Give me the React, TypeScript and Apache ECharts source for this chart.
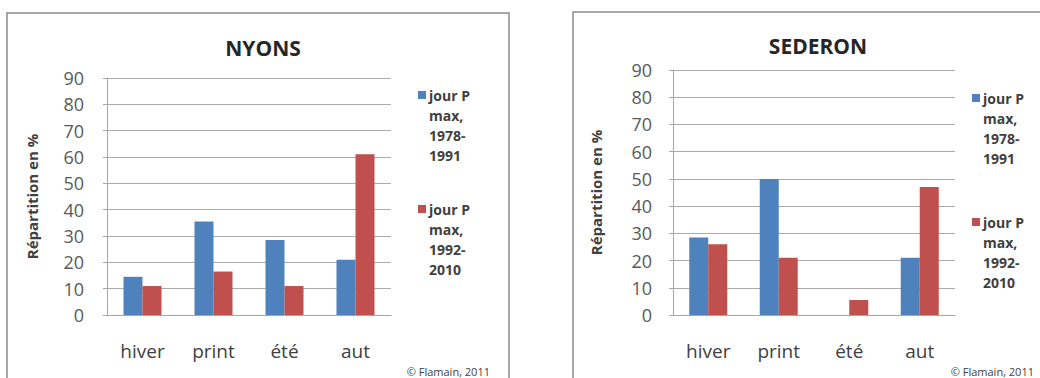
import React, { useEffect, useRef } from "react";
import * as echarts from "echarts";

const categories = ["hiver", "print", "été", "aut"];
const yTicks = [0, 10, 20, 30, 40, 50, 60, 70, 80, 90];
const seriesNames = ["jour P max, 1978-1991", "jour P max, 1992-2010"];
const legendLines = [
  ["jour P", "max,", "1978-", "1991"],
  ["jour P", "max,", "1992-", "2010"],
];
const nyons1978 = [14.5, 35.5, 28.5, 21];
const nyons1992 = [11, 16.5, 11, 61];
const sederon1978 = [28.5, 50, 0, 21];
const sederon1992 = [26, 21, 5.5, 47];
const titles = ["NYONS", "SEDERON"];
const axisTitle = "Répartition en %";
const credit = "© Flamain, 2011";

const BLUE = "#4F81BD";
const RED = "#C0504D";
const FONT = "'Open Sans', 'Liberation Sans', sans-serif";

export default function App() {
  const ref = useRef<HTMLDivElement>(null);
  useEffect(() => {
    document.body.style.margin = "0";
    const chart = echarts.init(ref.current!, undefined, { renderer: "svg" });
    const grids = [
      { left: 107, top: 78, width: 284, height: 237 },
      { left: 673, top: 70, width: 282, height: 245 },
    ];
    const yAxisBase = (i: number, nameGap: number, labelMargin: number) => ({
      type: "value",
      gridIndex: i,
      min: 0,
      max: 90,
      interval: 10,
      name: axisTitle,
      nameLocation: "middle",
      nameRotate: 90,
      nameGap,
      nameTextStyle: { fontFamily: FONT, fontSize: 15, fontWeight: "bold", color: "#404040" },
      axisLine: { show: true, lineStyle: { color: "#a6a6a6" } },
      axisTick: { show: true, length: 4, lineStyle: { color: "#a6a6a6" } },
      axisLabel: {
        margin: labelMargin,
        fontFamily: FONT,
        fontSize: 18,
        color: "#595959",
        formatter: (v: number) => (yTicks.includes(v) ? String(v) : ""),
      },
      splitLine: { show: true, lineStyle: { color: "#ababab" } },
    });
    const xAxisBase = (i: number) => ({
      type: "category",
      gridIndex: i,
      data: categories,
      axisLine: { show: true, lineStyle: { color: "#a6a6a6" } },
      axisTick: { show: false },
      axisLabel: { margin: 26, fontFamily: FONT, fontSize: 19, color: "#404040" },
    });
    const bar = (name: string, data: number[], color: string, i: number) => ({
      type: "bar",
      name,
      data,
      xAxisIndex: i,
      yAxisIndex: i,
      barWidth: 19,
      barGap: "0%",
      itemStyle: { color },
    });
    const legend = (x: number, ys: number[]) => {
      const els: any[] = [];
      [BLUE, RED].forEach((c, k) => {
        els.push({
          type: "rect",
          shape: { x, y: ys[k] - 4, width: 8, height: 8 },
          style: { fill: c },
        });
        els.push({
          type: "text",
          x: x + 11,
          y: ys[k] - 10,
          style: {
            text: legendLines[k].join("\n"),
            fontFamily: FONT,
            fontSize: 14,
            fontWeight: "bold",
            lineHeight: 20,
            fill: "#404040",
          },
        });
      });
      return els;
    };
    chart.setOption({
      animation: false,
      backgroundColor: "#ffffff",
      title: [
        {
          text: titles[0],
          left: 258,
          top: 32,
          textAlign: "center",
          textStyle: { fontFamily: FONT, fontSize: 21, fontWeight: "bold", color: "#262626" },
        },
        {
          text: titles[1],
          left: 813,
          top: 30,
          textAlign: "center",
          textStyle: { fontFamily: FONT, fontSize: 21, fontWeight: "bold", color: "#262626" },
        },
      ],
      grid: grids,
      xAxis: [xAxisBase(0), xAxisBase(1)],
      yAxis: [yAxisBase(0, 68, 23), yAxisBase(1, 70, 21)],
      series: [
        bar(seriesNames[0], nyons1978, BLUE, 0),
        bar(seriesNames[1], nyons1992, RED, 0),
        bar(seriesNames[0], sederon1978, BLUE, 1),
        bar(seriesNames[1], sederon1992, RED, 1),
      ],
      graphic: [
        {
          type: "rect",
          shape: { x: 7, y: 13, width: 502, height: 380 },
          style: { fill: "none", stroke: "#8c8c8c", lineWidth: 1.5 },
          z: -1,
        },
        {
          type: "rect",
          shape: { x: 573, y: 12, width: 500, height: 380 },
          style: { fill: "none", stroke: "#8c8c8c", lineWidth: 1.5 },
          z: -1,
        },
        ...legend(418, [95, 209]),
        ...legend(972, [98, 222]),
        {
          type: "text",
          x: 490,
          y: 366,
          style: { text: credit, fontFamily: FONT, fontSize: 11, fill: "#404040", textAlign: "right" },
        },
        {
          type: "text",
          x: 1034,
          y: 366,
          style: { text: credit, fontFamily: FONT, fontSize: 11, fill: "#404040", textAlign: "right" },
        },
      ],
    });
    return () => chart.dispose();
  }, []);
  return <div ref={ref} style={{ width: 1040, height: 378 }} />;
}
